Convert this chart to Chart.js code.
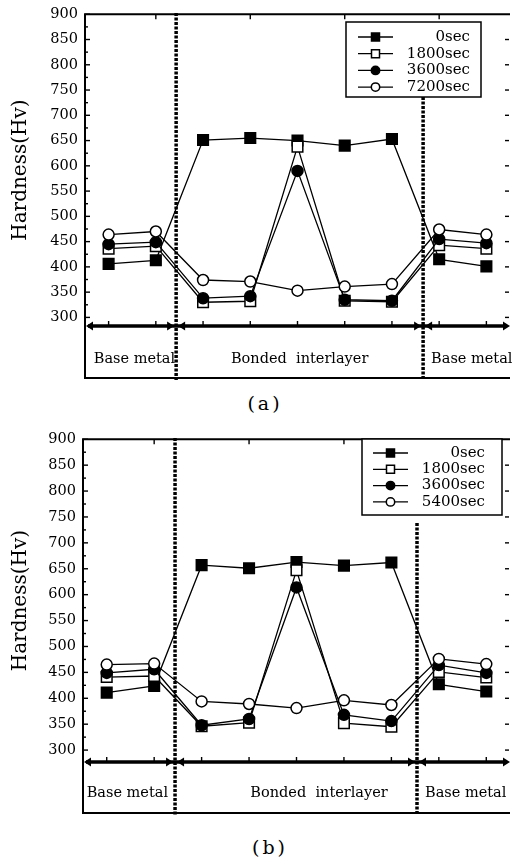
<!DOCTYPE html>
<html>
<head>
<meta charset="utf-8">
<script src="https://cdn.jsdelivr.net/npm/chart.js@4.4.1/dist/chart.umd.min.js"></script>
<style>
  html, body { margin: 0; padding: 0; background: #fff; }
  body { width: 519px; height: 857px; position: relative; overflow: hidden; font-family: "DejaVu Serif", serif; }
  .panel { position: absolute; left: 0; width: 519px; }
  #panelA { top: 0; height: 390px; }
  #panelB { top: 425px; height: 395px; }
  .caption { position: absolute; width: 100px; text-align: center; font-size: 19px; line-height: 22px; letter-spacing: 3px; color: #000; }
</style>
</head>
<body>
<div class="panel" id="panelA"><canvas id="chartA"></canvas></div>
<div class="caption" style="left:215px; top:392px;">(a)</div>
<div class="panel" id="panelB"><canvas id="chartB"></canvas></div>
<div class="caption" style="left:220px; top:836px;">(b)</div>

<script>
// measuring points across the joint (left base metal, interlayer, right base metal)
const points = ['1', '2', '3', '4', '5', '6', '7', '8', '9'];
const yTicks = [300, 350, 400, 450, 500, 550, 600, 650, 700, 750, 800, 850, 900];
const regionLabels = ['Base metal', 'Bonded  interlayer', 'Base metal'];

// (a)
const labelsA = ['0sec', '1800sec', '3600sec', '7200sec'];
const a0sec    = [406, 413, 651, 655, 650, 640, 653, 415, 401];
const a1800sec = [436, 441, 330, 332, 638, 333, 331, 443, 436];
const a3600sec = [445, 449, 338, 342, 590, 335, 333, 455, 447];
const a7200sec = [464, 470, 374, 371, 353, 361, 366, 474, 464];
const boundariesA = [1.43, 6.66];

// (b)
const labelsB = ['0sec', '1800sec', '3600sec', '5400sec'];
const b0sec    = [411, 424, 657, 651, 663, 656, 662, 427, 413];
const b1800sec = [441, 443, 346, 353, 647, 352, 345, 451, 440];
const b3600sec = [449, 456, 348, 360, 614, 368, 356, 464, 449];
const b5400sec = [465, 467, 394, 389, 381, 396, 387, 476, 466];
const boundariesB = [1.44, 6.54];

const markers = [
  { style: 'rect', radius: 7.5, fill: '#000', legendSize: 4 },
  { style: 'rect', radius: 7.5, fill: '#fff', legendSize: 4 },
  { style: 'circle', radius: 5.5, fill: '#000', legendSize: 4.2 },
  { style: 'circle', radius: 5.5, fill: '#fff', legendSize: 4.2 }
];

function arrowHead(ctx, xTip, y, dir) {
  ctx.beginPath();
  ctx.moveTo(xTip, y);
  ctx.lineTo(xTip - dir * 7, y - 4.5);
  ctx.lineTo(xTip - dir * 7, y + 4.5);
  ctx.closePath();
  ctx.fill();
}

// frame, inward ticks, arrow axis, boundary lines and region names
const framePlugin = {
  id: 'frame',
  afterDraw(chart, args, g) {
    const ctx = chart.ctx;
    const { left, top, right, bottom } = chart.chartArea;
    const x = chart.scales.x, y = chart.scales.y;
    ctx.save();
    ctx.strokeStyle = '#000';
    ctx.fillStyle = '#000';

    ctx.lineWidth = 2;
    ctx.beginPath();
    ctx.moveTo(right, top);
    ctx.lineTo(left, top);
    ctx.lineTo(left, g.boxBottom);
    ctx.lineTo(right, g.boxBottom);
    ctx.stroke();

    // left / right axis ticks
    ctx.lineWidth = 1.4;
    for (let v = 300; v <= 900; v += 25) {
      const py = y.getPixelForValue(v);
      const len = v % 50 === 0 ? 5 : 3;
      ctx.beginPath();
      ctx.moveTo(left, py);
      ctx.lineTo(left + len, py);
      ctx.stroke();
      if (v % 50 === 0 && v < 900) {
        ctx.beginPath();
        ctx.moveTo(right - 1, py);
        ctx.lineTo(right - 5, py);
        ctx.stroke();
      }
    }

    // ticks on top border and on the arrow axis
    points.forEach((p, i) => {
      const px = x.getPixelForValue(i);
      ctx.beginPath();
      ctx.moveTo(px, bottom);
      ctx.lineTo(px, bottom - 5);
      ctx.stroke();
      if (i % 2 === 1) {
        ctx.beginPath();
        ctx.moveTo(px, top);
        ctx.lineTo(px, top + 5);
        ctx.stroke();
      }
    });

    // thick arrow axis
    const b1 = x.getPixelForValue(g.boundaries[0]);
    const b2 = x.getPixelForValue(g.boundaries[1]);
    ctx.lineWidth = 3.5;
    ctx.beginPath();
    ctx.moveTo(left + 3, bottom);
    ctx.lineTo(right - 3, bottom);
    ctx.stroke();
    arrowHead(ctx, left + 1, bottom, -1);
    arrowHead(ctx, b1 - 2, bottom, 1);
    arrowHead(ctx, b1 + 2, bottom, -1);
    arrowHead(ctx, b2 - 2, bottom, 1);
    arrowHead(ctx, b2 + 2, bottom, -1);
    arrowHead(ctx, right, bottom, 1);

    // dotted boundary lines
    ctx.lineWidth = 3.5;
    ctx.setLineDash([3, 1.5]);
    ctx.beginPath();
    ctx.moveTo(b1, g.dotTop[0]);
    ctx.lineTo(b1, g.dotBottom);
    ctx.moveTo(b2, g.dotTop[1]);
    ctx.lineTo(b2, g.dotBottom);
    ctx.stroke();
    ctx.setLineDash([]);

    // region names
    ctx.font = '14.5px "DejaVu Serif"';
    ctx.textBaseline = 'middle';
    ctx.fillStyle = '#000';
    ctx.textAlign = 'right';
    ctx.fillText(regionLabels[0], b1 - g.leftGap, g.labelY);
    ctx.textAlign = 'center';
    ctx.fillText(regionLabels[1], (b1 + b2) / 2 + g.midShift, g.labelY);
    ctx.textAlign = 'left';
    ctx.fillText(regionLabels[2], b2 + 8, g.labelY);
    ctx.restore();
  }
};

// boxed legend inside the plot
const boxLegendPlugin = {
  id: 'boxLegend',
  afterDraw(chart, args, L) {
    const ctx = chart.ctx;
    ctx.save();
    ctx.fillStyle = '#fff';
    ctx.fillRect(L.x1, L.y1, L.x2 - L.x1, L.y2 - L.y1);
    ctx.strokeStyle = '#000';
    ctx.lineWidth = 1.5;
    ctx.strokeRect(L.x1, L.y1, L.x2 - L.x1, L.y2 - L.y1);
    chart.data.datasets.forEach((ds, i) => {
      const ry = L.row0 + i * L.rowGap;
      const m = markers[i];
      const mx = (L.lx1 + L.lx2) / 2;
      ctx.lineWidth = 1.3;
      ctx.beginPath();
      ctx.moveTo(L.lx1, ry);
      ctx.lineTo(L.lx2, ry);
      ctx.stroke();
      ctx.fillStyle = m.fill;
      ctx.lineWidth = 1.5;
      ctx.beginPath();
      if (m.style === 'rect') {
        ctx.rect(mx - m.legendSize, ry - m.legendSize, m.legendSize * 2, m.legendSize * 2);
      } else {
        ctx.arc(mx, ry, m.legendSize, 0, Math.PI * 2);
      }
      ctx.fill();
      ctx.stroke();
      ctx.fillStyle = '#000';
      ctx.font = '15px "DejaVu Serif"';
      ctx.textAlign = 'right';
      ctx.textBaseline = 'middle';
      ctx.fillText(ds.label, L.textRight, ry);
    });
    ctx.restore();
  }
};

function buildPanel(canvasId, seriesLabels, seriesValues, geo) {
  const datasets = seriesValues.map((vals, i) => ({
    label: seriesLabels[i],
    data: vals,
    borderColor: '#000',
    borderWidth: 1.3,
    pointStyle: markers[i].style,
    pointRadius: markers[i].radius,
    pointBackgroundColor: markers[i].fill,
    pointBorderColor: '#000',
    pointBorderWidth: 1.5,
    fill: false,
    tension: 0,
    order: 4 - i
  }));

  return new Chart(document.getElementById(canvasId), {
    type: 'line',
    data: { labels: points, datasets: datasets },
    options: {
      responsive: true,
      maintainAspectRatio: false,
      animation: false,
      layout: { padding: { top: 7, right: 0, bottom: geo.padBottom, left: 0 } },
      plugins: {
        legend: { display: false },
        tooltip: { enabled: false },
        frame: geo,
        boxLegend: geo.legend
      },
      scales: {
        x: { type: 'category', offset: true, display: false },
        y: {
          min: geo.yMin,
          max: 900,
          afterFit: (s) => { s.width = geo.axisWidth; },
          afterBuildTicks: (s) => { s.ticks = yTicks.map(v => ({ value: v })); },
          grid: { display: false, drawTicks: false },
          border: { display: false },
          ticks: { padding: 7, color: '#000', font: { family: 'DejaVu Serif', size: 14.5, lineHeight: 1 } },
          title: {
            display: true,
            text: 'Hardness(Hv)',
            color: '#000',
            font: { family: 'DejaVu Serif', size: 20 },
            padding: { top: 9, bottom: 0 }
          }
        }
      }
    },
    plugins: [framePlugin, boxLegendPlugin]
  });
}

buildPanel('chartA', labelsA, [a0sec, a1800sec, a3600sec, a7200sec], {
  padBottom: 64, axisWidth: 85, yMin: 283, boxBottom: 378,
  boundaries: boundariesA, dotTop: [13, 97], dotBottom: 380,
  labelY: 359, leftGap: 1, midShift: 0,
  legend: { x1: 346, y1: 22, x2: 481, y2: 97, row0: 37, rowGap: 16.7, lx1: 358, lx2: 393, textRight: 470 }
});

buildPanel('chartB', labelsB, [b0sec, b1800sec, b3600sec, b5400sec], {
  padBottom: 58, axisWidth: 83, yMin: 277, boxBottom: 388,
  boundaries: boundariesB, dotTop: [13, 98], dotBottom: 390,
  labelY: 368, leftGap: 7, midShift: 23,
  legend: { x1: 362, y1: 14, x2: 502, y2: 90, row0: 28, rowGap: 16.3, lx1: 373, lx2: 408, textRight: 485 }
});
</script>
</body>
</html>
